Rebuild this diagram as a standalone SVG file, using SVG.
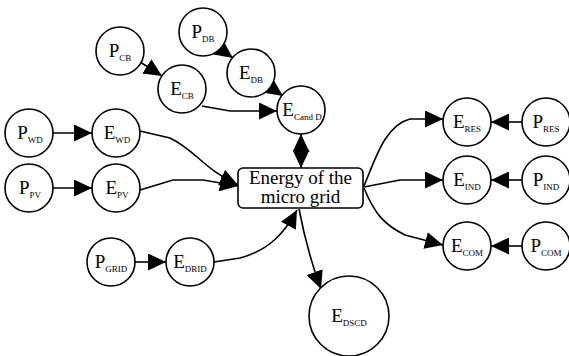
<svg xmlns="http://www.w3.org/2000/svg" width="569" height="356" viewBox="0 0 569 356">
<style>
.n{fill:#fff;stroke:#000;stroke-width:1.6}
text{font-family:'Liberation Serif','Times New Roman','DejaVu Serif',serif;font-size:19px;fill:#000}
.s{font-size:9px}
.c{fill:none;stroke:#000;stroke-width:1.6}
</style>
<defs>
<marker id="ah" viewBox="0 0 18 17" refX="18" refY="8.5" markerWidth="18" markerHeight="17" markerUnits="userSpaceOnUse" orient="auto-start-reverse">
<path d="M0,0 L18,8.5 L0,17 z" fill="#000"/>
</marker>
</defs>
<rect width="569" height="356" fill="#fff"/>
<g id="connectors">
<line class="c" x1="140" y1="62" x2="162" y2="76" marker-end="url(#ah)"/>
<line class="c" x1="219" y1="48" x2="233" y2="58" marker-end="url(#ah)"/>
<line class="c" x1="270" y1="87" x2="283" y2="96" marker-end="url(#ah)"/>
<polyline class="c" points="202,106 230,111 277,111" marker-end="url(#ah)"/>
<line class="c" x1="301" y1="134" x2="301" y2="168" marker-start="url(#ah)" marker-end="url(#ah)"/>
<line class="c" x1="53" y1="133" x2="92" y2="133" marker-end="url(#ah)"/>
<line class="c" x1="53" y1="188" x2="92" y2="188" marker-end="url(#ah)"/>
<path class="c" d="M140,131 L170,138 C195,150 205,170 238,185" marker-end="url(#ah)"/>
<path class="c" d="M140,190 L173,180 L203,180 L238,186" marker-end="url(#ah)"/>
<line class="c" x1="135" y1="262" x2="166" y2="262" marker-end="url(#ah)"/>
<path class="c" d="M214,262 L240,258 C270,250 285,232 297,210" marker-end="url(#ah)"/>
<path class="c" d="M299,209 C305,240 312,265 321,289" marker-end="url(#ah)"/>
<path class="c" d="M364,186 C375,160 385,125 410,119 L443,119" marker-end="url(#ah)"/>
<path class="c" d="M364,187 L400,180 L443,180" marker-end="url(#ah)"/>
<path class="c" d="M364,188 C375,215 385,225 405,235 L443,245" marker-end="url(#ah)"/>
<line class="c" x1="522" y1="122" x2="491" y2="122" marker-end="url(#ah)"/>
<line class="c" x1="522" y1="180" x2="491" y2="180" marker-end="url(#ah)"/>
<line class="c" x1="522" y1="246" x2="491" y2="246" marker-end="url(#ah)"/>
</g>
<g id="P_CB"><circle class="n" cx="120" cy="51" r="24"/><text x="120" y="57" text-anchor="middle">P<tspan class="s" dy="4">CB</tspan></text></g>
<g id="P_DB"><circle class="n" cx="203" cy="32" r="24"/><text x="203" y="38" text-anchor="middle">P<tspan class="s" dy="4">DB</tspan></text></g>
<g id="E_CB"><circle class="n" cx="182" cy="89" r="24"/><text x="182" y="95" text-anchor="middle">E<tspan class="s" dy="4">CB</tspan></text></g>
<g id="E_DB"><circle class="n" cx="251" cy="73" r="24"/><text x="251" y="79" text-anchor="middle">E<tspan class="s" dy="4">DB</tspan></text></g>
<g id="E_CandD"><circle class="n" cx="301" cy="110" r="24"/><text x="302" y="116" text-anchor="middle">E<tspan class="s" dy="4">Cand D</tspan></text></g>
<g id="P_WD"><circle class="n" cx="29" cy="133" r="24"/><text x="30" y="139" text-anchor="middle">P<tspan class="s" dy="4">WD</tspan></text></g>
<g id="E_WD"><circle class="n" cx="116" cy="133" r="24"/><text x="117" y="139" text-anchor="middle">E<tspan class="s" dy="4">WD</tspan></text></g>
<g id="P_PV"><circle class="n" cx="29" cy="188" r="24"/><text x="30" y="194" text-anchor="middle">P<tspan class="s" dy="4">PV</tspan></text></g>
<g id="E_PV"><circle class="n" cx="116" cy="188" r="24"/><text x="117" y="194" text-anchor="middle">E<tspan class="s" dy="4">PV</tspan></text></g>
<g id="P_GRID"><circle class="n" cx="111" cy="262" r="24"/><text x="111" y="268" text-anchor="middle">P<tspan class="s" dy="4">GRID</tspan></text></g>
<g id="E_DRID"><circle class="n" cx="190" cy="262" r="24"/><text x="190" y="268" text-anchor="middle">E<tspan class="s" dy="4">DRID</tspan></text></g>
<g id="grid"><rect class="n" x="238" y="168" width="125" height="40" rx="5"/><text x="300.5" y="184" text-anchor="middle">Energy of the</text><text x="300.5" y="203" text-anchor="middle">micro grid</text></g>
<g id="E_DSCD"><circle class="n" cx="349" cy="316" r="40"/><text x="349" y="322" text-anchor="middle" fill="#333">E<tspan class="s" dy="4">DSCD</tspan></text></g>
<g id="E_RES"><circle class="n" cx="467" cy="122" r="24"/><text x="467" y="128" text-anchor="middle">E<tspan class="s" dy="4">RES</tspan></text></g>
<g id="P_RES"><circle class="n" cx="546" cy="122" r="24"/><text x="546" y="128" text-anchor="middle">P<tspan class="s" dy="4">RES</tspan></text></g>
<g id="E_IND"><circle class="n" cx="467" cy="180" r="24"/><text x="467" y="186" text-anchor="middle">E<tspan class="s" dy="4">IND</tspan></text></g>
<g id="P_IND"><circle class="n" cx="546" cy="180" r="24"/><text x="546" y="186" text-anchor="middle">P<tspan class="s" dy="4">IND</tspan></text></g>
<g id="E_COM"><circle class="n" cx="467" cy="246" r="24"/><text x="467" y="252" text-anchor="middle">E<tspan class="s" dy="4">COM</tspan></text></g>
<g id="P_COM"><circle class="n" cx="546" cy="246" r="24"/><text x="546" y="252" text-anchor="middle">P<tspan class="s" dy="4">COM</tspan></text></g>
</svg>
